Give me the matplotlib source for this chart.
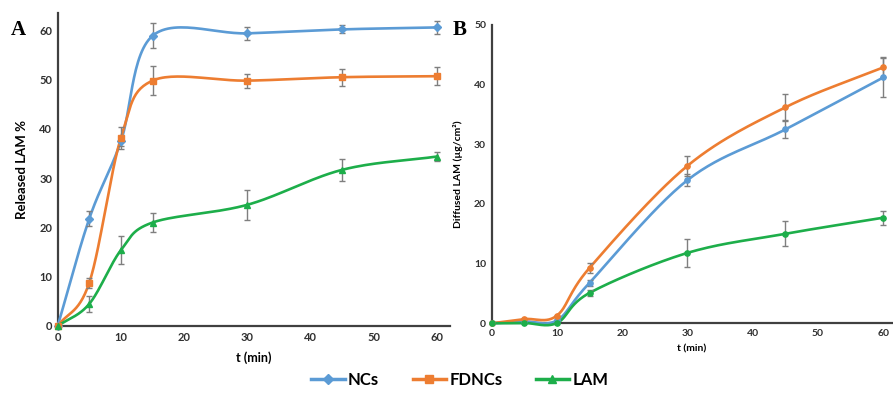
import numpy as np
import matplotlib
matplotlib.use("Agg")
import matplotlib.pyplot as plt
from matplotlib.lines import Line2D

plt.rcParams['font.family'] = ['Lato', 'DejaVu Sans']

# ---- data ----
t = [0, 5, 10, 15, 30, 45, 60]
series_names = ["NCs", "FDNCs", "LAM"]

# Panel A: released LAM %
a_ncs = [0, 21.8, 37.5, 58.9, 59.4, 60.2, 60.6]
a_ncs_err = [0, 1.5, 1.0, 2.5, 1.3, 0.8, 1.3]
a_fdncs = [0, 8.8, 38.2, 49.8, 49.8, 50.5, 50.7]
a_fdncs_err = [0, 1.0, 2.2, 3.0, 1.4, 1.7, 1.8]
a_lam = [0, 4.5, 15.4, 21.0, 24.6, 31.7, 34.4]
a_lam_err = [0, 1.6, 2.8, 2.0, 3.0, 2.2, 1.0]

# Panel B: diffused LAM (ug/cm2)
b_ncs = [0, 0.3, 0.5, 6.8, 24.0, 32.5, 41.2]
b_ncs_err = [0, 0, 0, 0.5, 1.0, 1.4, 3.3]
b_fdncs = [0, 0.7, 1.3, 9.3, 26.4, 36.2, 42.9]
b_fdncs_err = [0, 0, 0, 0.8, 1.7, 2.2, 1.7]
b_lam = [0, 0.05, 0.05, 5.1, 11.8, 15.0, 17.7]
b_lam_err = [0, 0, 0, 0.5, 2.3, 2.1, 1.2]

colors = ["#5B9BD5", "#ED7D31", "#1DAE4A"]
markers_a = ["D", "s", "^"]
markers_b = ["o", "o", "o"]


def smooth(x, y, n=30):
    """Catmull-Rom style smoothing (like Excel's smoothed line)."""
    x = np.asarray(x, float)
    y = np.asarray(y, float)
    px = np.concatenate([[2 * x[0] - x[1]], x, [2 * x[-1] - x[-2]]])
    py = np.concatenate([[2 * y[0] - y[1]], y, [2 * y[-1] - y[-2]]])
    xs, ys = [], []
    for i in range(1, len(px) - 2):
        p0, p1, p2, p3 = (np.array([px[j], py[j]]) for j in (i - 1, i, i + 1, i + 2))
        c1 = p1 + (p2 - p0) / 6.0
        c2 = p2 - (p3 - p1) / 6.0
        s = np.linspace(0, 1, n)[:, None]
        pts = ((1 - s) ** 3) * p1 + 3 * ((1 - s) ** 2) * s * c1 + 3 * (1 - s) * s ** 2 * c2 + s ** 3 * p2
        xs.append(pts[:, 0])
        ys.append(pts[:, 1])
    return np.concatenate(xs), np.concatenate(ys)


fig = plt.figure(figsize=(8.93, 3.96), dpi=100)
axA = fig.add_axes([0.0646, 0.1768, 0.439, 0.790])
axB = fig.add_axes([0.5506, 0.1836, 0.4480, 0.7533])


def style(ax, fs):
    for s in ["top", "right"]:
        ax.spines[s].set_visible(False)
    for s in ["left", "bottom"]:
        ax.spines[s].set_color("#404040")
        ax.spines[s].set_linewidth(1.6)
    ax.tick_params(length=0, labelsize=fs, pad=4, colors="#303030")
    for lab in ax.get_xticklabels() + ax.get_yticklabels():
        lab.set_fontweight("bold")


def draw(ax, data, errs, mk, ms):
    for y, e, c, m in zip(data, errs, colors, mk):
        xs, ys = smooth(t, y)
        ax.plot(xs, ys, color=c, lw=1.9, zorder=3, clip_on=False)
        ax.errorbar(t, y, yerr=e, fmt="none", ecolor="#7F7F7F", elinewidth=1.0,
                    capsize=2.0, capthick=1.0, zorder=4, clip_on=False)
        ax.plot(t, y, linestyle="none", marker=m, color=c, ms=ms, zorder=5, clip_on=False)


draw(axA, [a_ncs, a_fdncs, a_lam], [a_ncs_err, a_fdncs_err, a_lam_err], markers_a, 4.2)
axA.set_xlim(0, 62)
axA.set_ylim(0, 63.5)
axA.set_xticks(range(0, 61, 10))
axA.set_yticks(range(0, 61, 10))
style(axA, 8)
axA.set_xlabel("t (min)", fontsize=9, fontweight="bold", labelpad=6)
axA.set_ylabel("Released LAM %", fontsize=9.5, fontweight="bold", labelpad=8)

draw(axB, [b_ncs, b_fdncs, b_lam], [b_ncs_err, b_fdncs_err, b_lam_err], markers_b, 3.8)
axB.set_xlim(0, 61.3)
axB.set_ylim(0, 50)
axB.set_xticks(range(0, 61, 10))
axB.set_yticks(range(0, 51, 10))
style(axB, 7.5)
axB.set_xlabel("t (min)", fontsize=7.5, fontweight="bold", labelpad=5)
axB.set_ylabel("Diffused LAM (µg/cm²)", fontsize=7.5, fontweight="bold", labelpad=8)

fig.text(0.012, 0.925, "A", fontsize=15, fontweight="bold", family="Liberation Serif", va="center")
fig.text(0.507, 0.925, "B", fontsize=15, fontweight="bold", family="Liberation Serif", va="center")

handles = [Line2D([], [], color=c, lw=2.5, marker=m, ms=5.5) for c, m in zip(colors, markers_a)]
leg = fig.legend(handles, series_names, loc="center", bbox_to_anchor=(0.515, 0.04), ncol=3,
                 frameon=False, prop={"weight": "bold", "size": 12}, handlelength=2.0,
                 columnspacing=2.0, handletextpad=0.2)

fig.savefig("out.png", dpi=100)
